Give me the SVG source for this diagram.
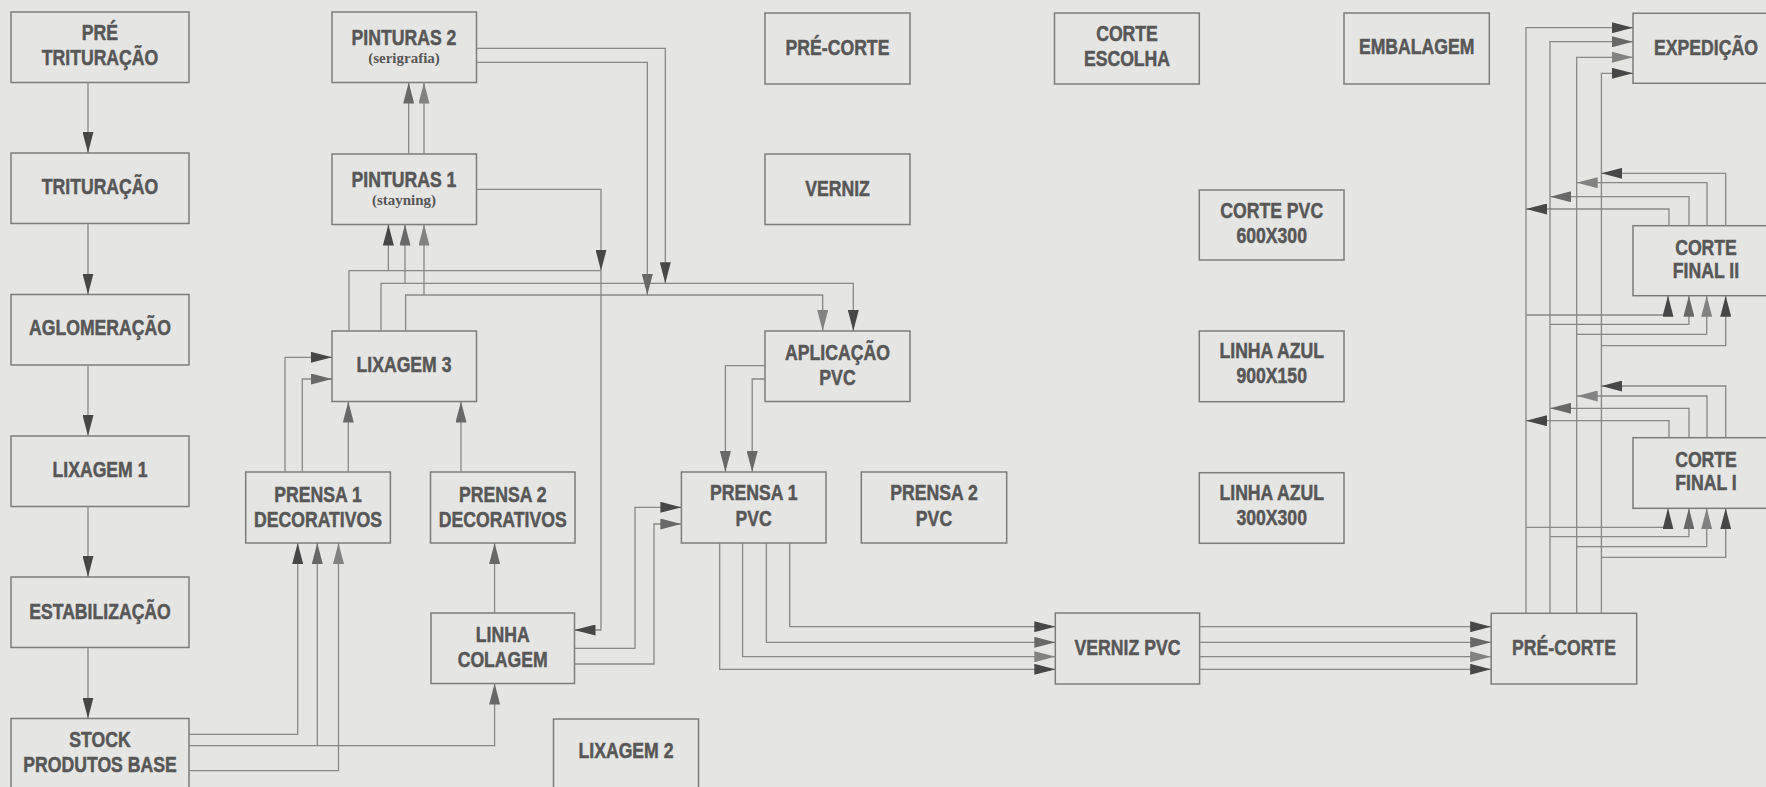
<svg xmlns="http://www.w3.org/2000/svg" width="1766" height="787" viewBox="0 0 1766 787">
<defs>
<marker id="ad" markerUnits="userSpaceOnUse" markerWidth="21" markerHeight="11" refX="21" refY="5.5" orient="auto"><path d="M0,0 L21,5.5 L0,11 z" fill="#474747"/></marker>
<marker id="am" markerUnits="userSpaceOnUse" markerWidth="21" markerHeight="11" refX="21" refY="5.5" orient="auto"><path d="M0,0 L21,5.5 L0,11 z" fill="#686868"/></marker>
<marker id="al" markerUnits="userSpaceOnUse" markerWidth="21" markerHeight="11" refX="21" refY="5.5" orient="auto"><path d="M0,0 L21,5.5 L0,11 z" fill="#828282"/></marker>
</defs>
<style>
.bx{fill:none;stroke:#7c7c7c;stroke-width:1.5}
.t{font-family:"Liberation Sans",Arial,sans-serif;font-weight:bold;font-size:21.5px;fill:#575757;stroke:#575757;stroke-width:0.5;text-anchor:middle}
.s{font-family:"Liberation Serif","Times New Roman",serif;font-weight:bold;font-size:15px;fill:#575757;text-anchor:middle}
#connectors path{fill:none;stroke:#888;stroke-width:1.3}
.d{marker-end:url(#ad)}
.m{marker-end:url(#am)}
.l{marker-end:url(#al)}
</style>
<rect width="1766" height="787" fill="#e5e5e3"/>

<g id="pre-trituracao"><rect class="bx" x="11" y="12" width="178" height="70.5"/><text class="t" transform="scale(0.82,1)" x="121.95" y="40">PRÉ</text><text class="t" transform="scale(0.82,1)" x="121.95" y="65">TRITURAÇÃO</text></g>
<g id="trituracao"><rect class="bx" x="11" y="153" width="178" height="70.5"/><text class="t" transform="scale(0.82,1)" x="121.95" y="194">TRITURAÇÃO</text></g>
<g id="aglomeracao"><rect class="bx" x="11" y="294.5" width="178" height="70.5"/><text class="t" transform="scale(0.82,1)" x="121.95" y="335.5">AGLOMERAÇÃO</text></g>
<g id="lixagem1"><rect class="bx" x="11" y="436" width="178" height="70.5"/><text class="t" transform="scale(0.82,1)" x="121.95" y="477">LIXAGEM 1</text></g>
<g id="estabilizacao"><rect class="bx" x="11" y="577" width="178" height="70.5"/><text class="t" transform="scale(0.82,1)" x="121.95" y="619">ESTABILIZAÇÃO</text></g>
<g id="stock"><rect class="bx" x="11" y="718.5" width="178" height="80"/><text class="t" transform="scale(0.82,1)" x="121.95" y="747">STOCK</text><text class="t" transform="scale(0.82,1)" x="121.95" y="772">PRODUTOS BASE</text></g>

<g id="pinturas2"><rect class="bx" x="332" y="12" width="144.5" height="70.5"/><text class="t" transform="scale(0.82,1)" x="492.68" y="45">PINTURAS 2</text><text class="s" x="404" y="63">(serigrafia)</text></g>
<g id="pinturas1"><rect class="bx" x="332" y="154" width="144.5" height="70.5"/><text class="t" transform="scale(0.82,1)" x="492.68" y="187">PINTURAS 1</text><text class="s" x="404" y="205">(stayning)</text></g>
<g id="lixagem3"><rect class="bx" x="332" y="331" width="144.5" height="70.5"/><text class="t" transform="scale(0.82,1)" x="492.68" y="372">LIXAGEM 3</text></g>
<g id="prensa1dec"><rect class="bx" x="245.7" y="472" width="144.7" height="71"/><text class="t" transform="scale(0.82,1)" x="387.8" y="502">PRENSA 1</text><text class="t" transform="scale(0.82,1)" x="387.8" y="527">DECORATIVOS</text></g>
<g id="prensa2dec"><rect class="bx" x="430.5" y="472" width="144.5" height="71"/><text class="t" transform="scale(0.82,1)" x="613.05" y="502">PRENSA 2</text><text class="t" transform="scale(0.82,1)" x="613.05" y="527">DECORATIVOS</text></g>
<g id="linhacolagem"><rect class="bx" x="431" y="613" width="143.5" height="70.5"/><text class="t" transform="scale(0.82,1)" x="613.05" y="642">LINHA</text><text class="t" transform="scale(0.82,1)" x="613.05" y="667">COLAGEM</text></g>
<g id="lixagem2"><rect class="bx" x="553.5" y="719" width="145" height="80"/><text class="t" transform="scale(0.82,1)" x="763.41" y="758">LIXAGEM 2</text></g>

<g id="precorte-top"><rect class="bx" x="765" y="13" width="145" height="71"/><text class="t" transform="scale(0.82,1)" x="1021.34" y="55">PRÉ-CORTE</text></g>
<g id="verniz"><rect class="bx" x="765" y="154" width="145" height="70.5"/><text class="t" transform="scale(0.82,1)" x="1021.34" y="196">VERNIZ</text></g>
<g id="aplicacaopvc"><rect class="bx" x="765" y="331" width="145" height="70.5"/><text class="t" transform="scale(0.82,1)" x="1021.34" y="360">APLICAÇÃO</text><text class="t" transform="scale(0.82,1)" x="1021.34" y="385">PVC</text></g>
<g id="prensa1pvc"><rect class="bx" x="681.4" y="472" width="144.6" height="71"/><text class="t" transform="scale(0.82,1)" x="919.15" y="500">PRENSA 1</text><text class="t" transform="scale(0.82,1)" x="919.15" y="526">PVC</text></g>
<g id="prensa2pvc"><rect class="bx" x="861.3" y="472" width="145.4" height="71"/><text class="t" transform="scale(0.82,1)" x="1139.02" y="500">PRENSA 2</text><text class="t" transform="scale(0.82,1)" x="1139.02" y="526">PVC</text></g>
<g id="vernizpvc"><rect class="bx" x="1055.3" y="613" width="144.3" height="71"/><text class="t" transform="scale(0.82,1)" x="1375" y="655">VERNIZ PVC</text></g>
<g id="corteescolha"><rect class="bx" x="1054.5" y="13" width="144.8" height="71"/><text class="t" transform="scale(0.82,1)" x="1374.39" y="41.5">CORTE</text><text class="t" transform="scale(0.82,1)" x="1374.39" y="66.5">ESCOLHA</text></g>
<g id="cortepvc"><rect class="bx" x="1199.3" y="190" width="144.7" height="70"/><text class="t" transform="scale(0.82,1)" x="1550.85" y="218.5">CORTE PVC</text><text class="t" transform="scale(0.82,1)" x="1550.85" y="243.5">600X300</text></g>
<g id="linhaazul900"><rect class="bx" x="1199.3" y="331" width="144.7" height="70.7"/><text class="t" transform="scale(0.82,1)" x="1550.85" y="358.5">LINHA AZUL</text><text class="t" transform="scale(0.82,1)" x="1550.85" y="383.5">900X150</text></g>
<g id="linhaazul300"><rect class="bx" x="1199.3" y="472.7" width="144.7" height="70.6"/><text class="t" transform="scale(0.82,1)" x="1550.85" y="500">LINHA AZUL</text><text class="t" transform="scale(0.82,1)" x="1550.85" y="525">300X300</text></g>
<g id="embalagem"><rect class="bx" x="1344" y="13" width="145.3" height="71"/><text class="t" transform="scale(0.82,1)" x="1727.68" y="54">EMBALAGEM</text></g>
<g id="precorte"><rect class="bx" x="1491.2" y="613.3" width="145.5" height="70.7"/><text class="t" transform="scale(0.82,1)" x="1907.32" y="655">PRÉ-CORTE</text></g>
<g id="expedicao"><rect class="bx" x="1633" y="13.3" width="150" height="70"/><text class="t" transform="scale(0.82,1)" x="2080.49" y="55">EXPEDIÇÃO</text></g>
<g id="cortefinal2"><rect class="bx" x="1633" y="225.7" width="150" height="70"/><text class="t" transform="scale(0.82,1)" x="2080.49" y="255">CORTE</text><text class="t" transform="scale(0.82,1)" x="2080.49" y="278.5">FINAL II</text></g>
<g id="cortefinal1"><rect class="bx" x="1633" y="437.7" width="150" height="70.6"/><text class="t" transform="scale(0.82,1)" x="2080.49" y="466.7">CORTE</text><text class="t" transform="scale(0.82,1)" x="2080.49" y="490">FINAL I</text></g>

<g id="connectors">
<path class="d" d="M88,82.5 V153"/>
<path class="d" d="M88,223.5 V294.5"/>
<path class="d" d="M88,365 V436"/>
<path class="d" d="M88,506.5 V577"/>
<path class="d" d="M88,647.5 V718.5"/>
<path class="m" d="M408.7,154 V82.5"/>
<path class="l" d="M424,154 V82.5"/>
<path d="M349,331 V270.7 H601"/>
<path class="d" d="M381,331 V283.3 H853.3 V331"/>
<path class="l" d="M405.6,331 V295 H822.7 V331"/>
<path class="d" d="M388.4,270.7 V224.5"/>
<path class="m" d="M405,283.3 V224.5"/>
<path class="l" d="M424,295 V224.5"/>
<path class="d" d="M476.5,48.3 H665.3 V283.3"/>
<path class="m" d="M476.5,62.3 H647.3 V295"/>
<path class="d" d="M476.5,189.3 H601 V270.7"/>
<path class="d" d="M601,270.7 V630 H574.5"/>
<path class="m" d="M765,365.7 H725.4 V472"/>
<path class="m" d="M765,379 H752.2 V472"/>
<path class="m" d="M348.3,472 V401.5"/>
<path class="d" d="M285,472 V357.3 H332"/>
<path class="m" d="M302.3,472 V379 H332"/>
<path class="m" d="M461,472 V401.5"/>
<path class="d" d="M189,734.3 H297.7 V543"/>
<path class="m" d="M189,745.7 H494.6 V683.5"/>
<path class="m" d="M317.3,745.7 V543"/>
<path class="l" d="M189,770.7 H338.5 V543"/>
<path class="m" d="M494.6,613 V543"/>
<path class="d" d="M574.5,648.3 H635 V507.3 H681.4"/>
<path class="m" d="M574.5,664 H654 V524 H681.4"/>
<path class="d" d="M789.7,543 V626.7 H1055.3"/>
<path class="m" d="M766.4,543 V642.3 H1055.3"/>
<path class="l" d="M742.6,543 V656.7 H1055.3"/>
<path class="d" d="M719.7,543 V669.3 H1055.3"/>
<path class="d" d="M1199.6,626.7 H1491.2"/>
<path class="m" d="M1199.6,642.3 H1491.2"/>
<path class="l" d="M1199.6,656.7 H1491.2"/>
<path class="d" d="M1199.6,669.3 H1491.2"/>
<path class="d" d="M1526,613.3 V27.7 H1633"/>
<path class="m" d="M1550,613.3 V41.7 H1633"/>
<path class="l" d="M1576.7,613.3 V57.3 H1633"/>
<path class="d" d="M1601.4,613.3 V73.3 H1633"/>
<path class="d" d="M1526,315 H1668 V295.7"/>
<path class="m" d="M1550,324.3 H1688.9 V295.7"/>
<path class="l" d="M1576.7,334.3 H1706.7 V295.7"/>
<path class="d" d="M1601.4,345.7 H1725.7 V295.7"/>
<path class="d" d="M1669,225.7 V209 H1526"/>
<path class="m" d="M1689,225.7 V196.7 H1550"/>
<path class="l" d="M1707,225.7 V182.7 H1576.7"/>
<path class="d" d="M1725.7,225.7 V173.3 H1601.4"/>
<path class="d" d="M1526,527.3 H1668 V508.3"/>
<path class="m" d="M1550,536.7 H1688.9 V508.3"/>
<path class="l" d="M1576.7,546.7 H1706.7 V508.3"/>
<path class="d" d="M1601.4,557.3 H1725.7 V508.3"/>
<path class="d" d="M1669,437.7 V420.7 H1526"/>
<path class="m" d="M1689,437.7 V408.3 H1550"/>
<path class="l" d="M1707,437.7 V396 H1576.7"/>
<path class="d" d="M1725.7,437.7 V386 H1601.4"/>
</g>
</svg>
